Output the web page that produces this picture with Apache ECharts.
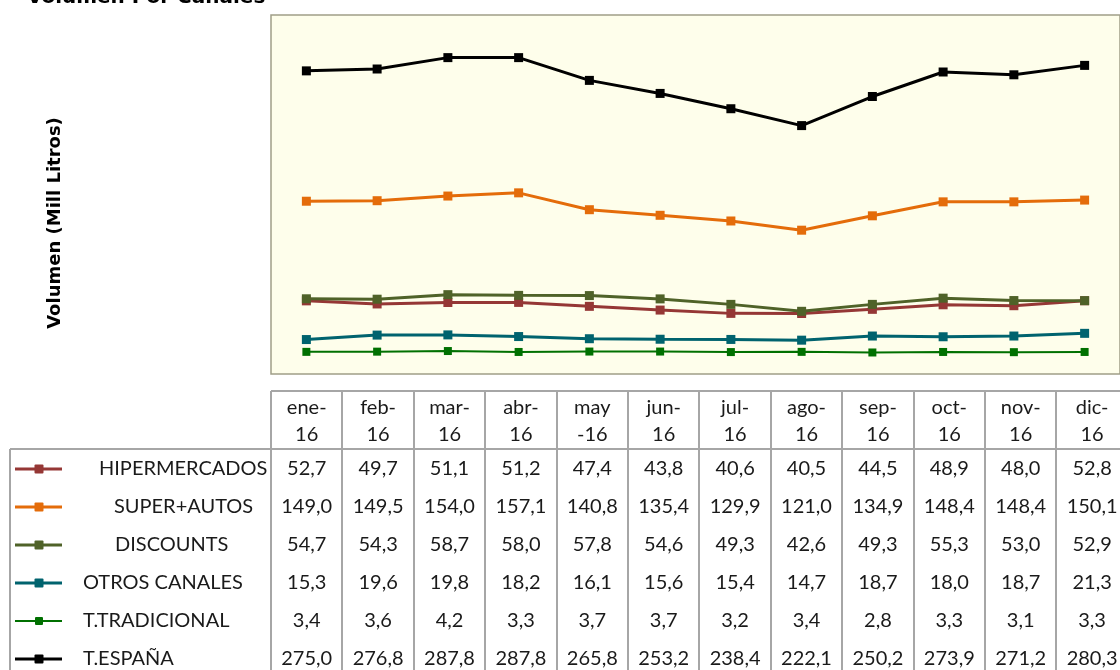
<!DOCTYPE html>
<html>
<head>
<meta charset="utf-8">
<script src="https://cdn.jsdelivr.net/npm/echarts@6/dist/echarts.min.js"></script>
<style>
  html, body { margin: 0; padding: 0; background: #fff; }
  #main { width: 1120px; height: 670px; }
</style>
</head>
<body>
<div id="main"></div>
<script>
// datos
var meses = ['ene-\n16', 'feb-\n16', 'mar-\n16', 'abr-\n16', 'may\n-16', 'jun-\n16',
             'jul-\n16', 'ago-\n16', 'sep-\n16', 'oct-\n16', 'nov-\n16', 'dic-\n16'];
var canales = ['HIPERMERCADOS', 'SUPER+AUTOS', 'DISCOUNTS', 'OTROS CANALES', 'T.TRADICIONAL', 'T.ESPAÑA'];
var hipermercados = [52.7, 49.7, 51.1, 51.2, 47.4, 43.8, 40.6, 40.5, 44.5, 48.9, 48.0, 52.8];
var superAutos    = [149.0, 149.5, 154.0, 157.1, 140.8, 135.4, 129.9, 121.0, 134.9, 148.4, 148.4, 150.1];
var discounts     = [54.7, 54.3, 58.7, 58.0, 57.8, 54.6, 49.3, 42.6, 49.3, 55.3, 53.0, 52.9];
var otrosCanales  = [15.3, 19.6, 19.8, 18.2, 16.1, 15.6, 15.4, 14.7, 18.7, 18.0, 18.7, 21.3];
var tTradicional  = [3.4, 3.6, 4.2, 3.3, 3.7, 3.7, 3.2, 3.4, 2.8, 3.3, 3.1, 3.3];
var tEspana       = [275.0, 276.8, 287.8, 287.8, 265.8, 253.2, 238.4, 222.1, 250.2, 273.9, 271.2, 280.3];
var valores = [hipermercados, superAutos, discounts, otrosCanales, tTradicional, tEspana];

// estilo
var colores = ['#953735', '#E46C0A', '#4F6228', '#00636E', '#007000', '#000000'];
var grosor = [3, 3, 3, 3, 2, 3];
var marca = [9, 9, 9, 9, 8, 9];
var sangria = [99, 114, 115, 83, 83, 83];

var gridLeft = 271, gridTop = 15, colW = 71.4, gridH = 359;
var fuenteTabla = 'Lato, "Open Sans", sans-serif';
var gris = '#A6A6A6';
var tinta = '#1a1a1a';

function fmt(v) { return v.toFixed(1).replace('.', ','); }

var graficos = [];
// titulo (cortado arriba)
graficos.push({
  type: 'text', x: 27, y: 8,
  style: { text: 'Volumen Por Canales', textAlign: 'left', textVerticalAlign: 'bottom',
           font: 'bold 20px "DejaVu Sans"', fill: '#000' }
});
// nombre del eje
graficos.push({
  type: 'text', x: 55, y: 223, rotation: Math.PI / 2,
  style: { text: 'Volumen (Mill Litros)', textAlign: 'center', textVerticalAlign: 'middle',
           font: 'bold 18px "DejaVu Sans"', fill: '#000' }
});

// tabla de datos
var tablaTop = 391, filaTop = 449, filaH = 38, bottom = 680, right = 1140;
graficos.push({ type: 'line', shape: { x1: gridLeft, y1: tablaTop, x2: right, y2: tablaTop }, style: { stroke: gris, lineWidth: 2 } });
graficos.push({ type: 'line', shape: { x1: 10, y1: filaTop, x2: right, y2: filaTop }, style: { stroke: gris, lineWidth: 2 } });
graficos.push({ type: 'line', shape: { x1: 10, y1: filaTop, x2: 10, y2: bottom }, style: { stroke: gris, lineWidth: 2 } });
for (var c = 0; c <= meses.length; c++) {
  var xl = Math.round(gridLeft + c * colW);
  graficos.push({ type: 'line', shape: { x1: xl, y1: tablaTop, x2: xl, y2: bottom }, style: { stroke: gris, lineWidth: 2 } });
}
meses.forEach(function (m, i) {
  var partes = m.split('\n');
  var cx = gridLeft + (i + 0.5) * colW;
  graficos.push({ type: 'text', x: cx, y: 408, style: { text: partes[0], textAlign: 'center', textVerticalAlign: 'middle', font: '20px ' + fuenteTabla, fill: tinta } });
  graficos.push({ type: 'text', x: cx, y: 435, style: { text: partes[1], textAlign: 'center', textVerticalAlign: 'middle', font: '20px ' + fuenteTabla, fill: tinta } });
});
canales.forEach(function (nombre, r) {
  var cy = 469 + r * filaH;
  graficos.push({ type: 'line', shape: { x1: 15, y1: cy, x2: 62, y2: cy }, style: { stroke: colores[r], lineWidth: grosor[r] } });
  var s = marca[r];
  graficos.push({ type: 'rect', shape: { x: 39 - s / 2, y: cy - s / 2, width: s, height: s, r: 1 }, style: { fill: colores[r] } });
  graficos.push({ type: 'text', x: sangria[r], y: cy, style: { text: nombre, textAlign: 'left', textVerticalAlign: 'middle', font: '20px ' + fuenteTabla, fill: tinta } });
  valores[r].forEach(function (v, i) {
    graficos.push({ type: 'text', x: gridLeft + (i + 0.5) * colW, y: cy, style: { text: fmt(v), textAlign: 'center', textVerticalAlign: 'middle', font: '20px ' + fuenteTabla, fill: tinta } });
  });
});

var option = {
  animation: false,
  grid: {
    left: gridLeft, top: gridTop, width: colW * meses.length, height: gridH,
    show: true, backgroundColor: '#FEFEEB', borderColor: '#A09E88', borderWidth: 1.5
  },
  xAxis: {
    type: 'category', data: meses, boundaryGap: true,
    axisLine: { show: false }, axisTick: { show: false }, axisLabel: { show: false }
  },
  yAxis: {
    type: 'value', min: -18, max: 329,
    axisLine: { show: false }, axisTick: { show: false }, axisLabel: { show: false }, splitLine: { show: false }
  },
  series: canales.map(function (nombre, r) {
    return {
      name: nombre, type: 'line', data: valores[r],
      symbol: 'rect', symbolSize: marca[r],
      lineStyle: { color: colores[r], width: grosor[r] },
      itemStyle: { color: colores[r] }
    };
  }),
  graphic: graficos
};

var myChart = echarts.init(document.getElementById('main'));
myChart.setOption(option);
</script>
</body>
</html>
